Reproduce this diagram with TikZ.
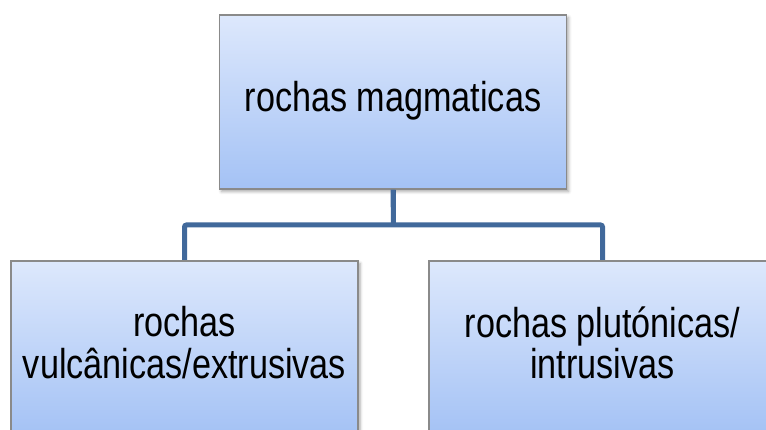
\documentclass[tikz,border=0pt]{standalone}
\usepackage{fontspec}
\setmainfont{Liberation Sans}
\usetikzlibrary{shadows.blur}
\definecolor{boxtop}{HTML}{DDE8FC}
\definecolor{boxbot}{HTML}{A4C2F5}
\definecolor{boxline}{HTML}{8A8A8A}
\definecolor{conn}{HTML}{41699B}
\newcommand{\boxtext}[1]{\scalebox{1}[1.22]{\fontsize{34.2}{30.3}\selectfont\begin{tabular}{@{}c@{}}#1\end{tabular}}}
\tikzset{
  orgbox/.style={draw=boxline, line width=1.2pt, top color=boxtop, bottom color=boxbot,
    minimum width=347pt, minimum height=174pt, inner sep=0pt, align=center,
    blur shadow={shadow xshift=2pt, shadow yshift=-2.5pt, shadow blur radius=3pt, shadow opacity=35}},
  connline/.style={draw=conn, line width=5pt, rounded corners=2pt}
}
\begin{document}
\begin{tikzpicture}[x=1pt,y=1pt]
\useasboundingbox (0,0) rectangle (766,430);
\coordinate (j) at (393.5,205);
\draw[connline] (393.5,241) -- (j);
\draw[connline] (184.5,169) |- (j) -| (602.5,169);
\node[orgbox] (top) at (393,328) {\boxtext{rochas magmaticas}};
\node[orgbox] (lbox) at (184.5,82) {\boxtext{rochas\\vulcânicas/extrusivas}};
\node[orgbox] (rbox) at (602.5,82) {\boxtext{rochas plutónicas/\\intrusivas}};
\draw[connline] (top.south) -- (j);
\end{tikzpicture}
\end{document}
